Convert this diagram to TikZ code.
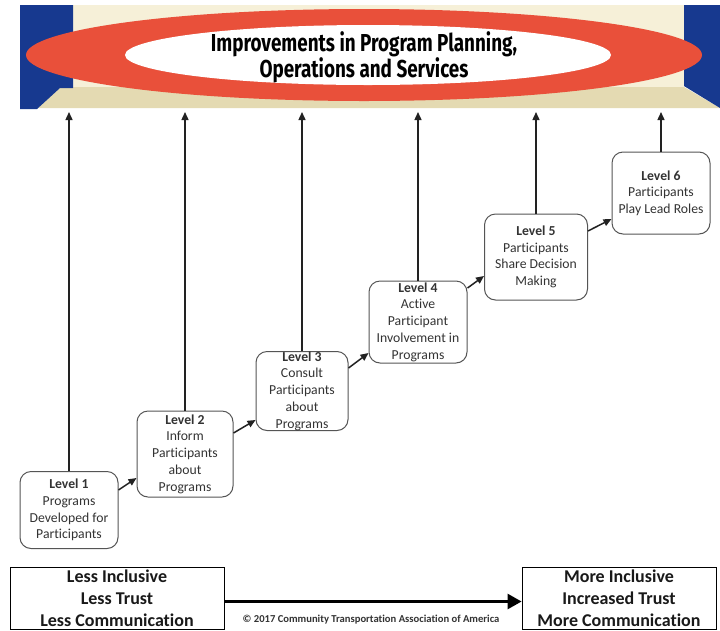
\documentclass[tikz,border=0pt]{standalone}
\usepackage{fontspec}
\setmainfont{Carlito}[Ligatures=NoCommon]
\newfontfamily\titlefont[FakeStretch=0.77]{Fira Sans}
\usetikzlibrary{arrows.meta,calc}
\definecolor{navy}{HTML}{17398F}
\definecolor{cream}{HTML}{F6F0D8}
\definecolor{floortan}{HTML}{E4DAB2}
\definecolor{redring}{HTML}{E9503A}
\definecolor{boxgray}{HTML}{555555}
\definecolor{txtgray}{HTML}{333333}
\definecolor{arrowgray}{HTML}{222222}
\tikzset{
  lvl/.style={draw=boxgray, line width=1pt, rounded corners=11pt, fill=white,
    align=center, inner sep=0pt, text=txtgray,
    font=\fontsize{13.7}{16.7}\selectfont},
  upar/.style={draw=arrowgray, line width=1.4pt, -{Triangle[length=8pt,width=7pt]}},
  diar/.style={draw=arrowgray, line width=1.5pt, -{Triangle[length=8pt,width=7pt]}},
  endbox/.style={draw=black, line width=0.8pt, align=center, inner sep=0pt,
    text=black!90, font=\fontsize{18}{22}\selectfont\bfseries},
  bigar/.style={draw=black, line width=2.6pt, -{Triangle[length=14pt,width=15pt]}}
}
\begin{document}
\begin{tikzpicture}[x=1pt,y=-1pt]
\useasboundingbox (0,0) rectangle (720,630);
\fill[white] (0,0) rectangle (720,630);
% banner
\fill[cream] (73,5) rectangle (684,88);
\fill[floortan] (60,87) -- (684,87) -- (720,108) -- (37,108) -- cycle;
\fill[navy] (20,5) -- (73,5) -- (73,88) -- (60,88) -- (37,109) -- (20,109) -- cycle;
\fill[navy] (684,5) -- (720,5) -- (720,108) -- (684,86) -- cycle;
\fill[redring] (364,55) ellipse [x radius=338pt, y radius=46pt];
\fill[white] (368,55) ellipse [x radius=243pt, y radius=30pt];
\node[align=center, inner sep=0pt, font=\titlefont\bfseries\fontsize{24.5}{23}\selectfont, text=black]
  (title) at (364,57) {Improvements in Program Planning,\\Operations and Services};
\coordinate (bb) at (0,112);
% levels
\node[lvl, minimum width=98pt, minimum height=77pt] (L1) at (69,510)
  {\textbf{Level 1}\\Programs\\Developed for\\Participants};
\node[lvl, minimum width=96pt, minimum height=86pt] (L2) at (185,454)
  {\textbf{Level 2}\\Inform\\Participants\\about\\Programs};
\node[lvl, minimum width=92pt, minimum height=79pt] (L3) at (302,391)
  {\textbf{Level 3}\\Consult\\Participants\\about\\Programs};
\node[lvl, minimum width=98pt, minimum height=82pt] (L4) at (418,322)
  {\textbf{Level 4}\\Active\\Participant\\Involvement in\\Programs};
\node[lvl, minimum width=103pt, minimum height=86pt] (L5) at (536,257)
  {\textbf{Level 5}\\Participants\\Share Decision\\Making};
\node[lvl, minimum width=98pt, minimum height=82pt] (L6) at (661,193)
  {\textbf{Level 6}\\Participants\\Play Lead Roles};
% vertical arrows
\foreach \n in {L1,L2,L3,L4,L5,L6}
  \draw[upar] (\n.north) -- (\n.north |- bb);
% diagonal arrows
\draw[diar] ([yshift=20pt]L1.east) -- ([yshift=-24pt]L2.west);
\draw[diar] ([yshift=21pt]L2.east) -- ([yshift=-29pt]L3.west);
\draw[diar] ([yshift=23pt]L3.east) -- ([yshift=-31pt]L4.west);
\draw[diar] ([yshift=34pt]L4.east) -- ([yshift=-19pt]L5.west);
\draw[diar] ([yshift=26pt]L5.east) -- ([yshift=-26pt]L6.west);
% bottom
\node[endbox, minimum width=214pt, minimum height=62pt] (less) at (117,598.5)
  {Less Inclusive\\Less Trust\\Less Communication};
\node[endbox, minimum width=194pt, minimum height=62pt] (more) at (619,598.5)
  {More Inclusive\\Increased Trust\\More Communication};
\draw[bigar] ([yshift=-3pt]less.east) -- ([yshift=-3pt]more.west);
\node[font=\fontsize{10.6}{12}\selectfont\bfseries, text=txtgray, inner sep=0pt]
  (copy) at (371,620) {© 2017 Community Transportation Association of America};
\end{tikzpicture}
\end{document}
